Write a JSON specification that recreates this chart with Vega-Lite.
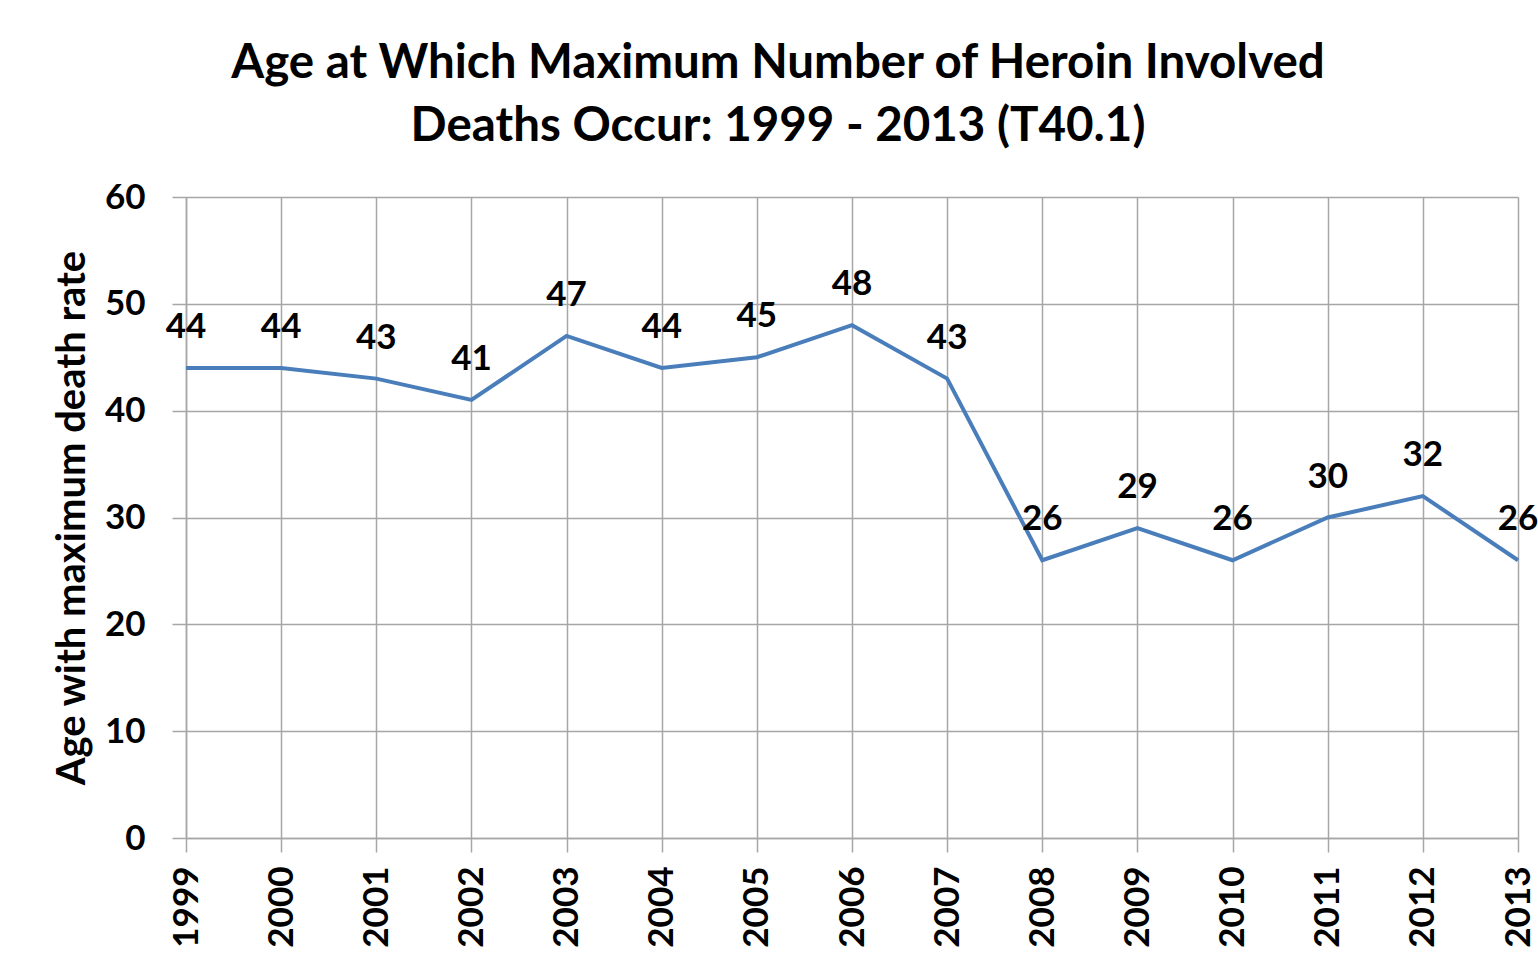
{
  "$schema": "https://vega.github.io/schema/vega-lite/v6.json",
  "width": 1332,
  "height": 641,
  "autosize": {"type": "none"},
  "padding": {"left": 186, "top": 197, "right": 20, "bottom": 128},
  "background": "white",
  "title": {
    "text": ["Age at Which Maximum Number of Heroin Involved", "Deaths Occur: 1999 - 2013 (T40.1)"],
    "font": "Lato",
    "fontSize": 47.5,
    "fontWeight": "bold",
    "color": "black",
    "anchor": "middle",
    "dx": -74,
    "lineHeight": 63,
    "offset": 30
  },
  "data": {
    "values": [
      {"year": 1999, "age": 44},
      {"year": 2000, "age": 44},
      {"year": 2001, "age": 43},
      {"year": 2002, "age": 41},
      {"year": 2003, "age": 47},
      {"year": 2004, "age": 44},
      {"year": 2005, "age": 45},
      {"year": 2006, "age": 48},
      {"year": 2007, "age": 43},
      {"year": 2008, "age": 26},
      {"year": 2009, "age": 29},
      {"year": 2010, "age": 26},
      {"year": 2011, "age": 30},
      {"year": 2012, "age": 32},
      {"year": 2013, "age": 26}
    ]
  },
  "encoding": {
    "x": {
      "field": "year",
      "type": "quantitative",
      "scale": {"domain": [1999, 2013], "nice": false, "zero": false},
      "axis": {
        "title": null,
        "values": [1999, 2000, 2001, 2002, 2003, 2004, 2005, 2006, 2007, 2008, 2009, 2010, 2011, 2012, 2013],
        "format": "d",
        "labelAngle": -90,
        "labelAlign": "right",
        "labelBaseline": "middle",
        "labelFont": "Lato",
        "labelFontWeight": "bold",
        "labelFontSize": 35,
        "labelColor": "black",
        "labelPadding": 14,
        "labelOverlap": false,
        "labelFlush": false,
        "tickSize": 14,
        "tickColor": "#a6a6a6",
        "tickWidth": 1.5,
        "domainColor": "#a6a6a6",
        "domainWidth": 1.5,
        "grid": true,
        "gridColor": "#a6a6a6",
        "gridWidth": 1.5
      }
    },
    "y": {
      "field": "age",
      "type": "quantitative",
      "scale": {"domain": [0, 60], "nice": false},
      "axis": {
        "title": "Age with maximum death rate",
        "titleFont": "Lato",
        "titleFontWeight": "bold",
        "titleFontSize": 40,
        "titleColor": "black",
        "titlePadding": 12,
        "values": [0, 10, 20, 30, 40, 50, 60],
        "labelFont": "Lato",
        "labelFontWeight": "bold",
        "labelFontSize": 35,
        "labelColor": "black",
        "labelPadding": 27,
        "labelFlush": false,
        "tickSize": 14,
        "tickColor": "#a6a6a6",
        "tickWidth": 1.5,
        "domainColor": "#a6a6a6",
        "domainWidth": 1.5,
        "grid": true,
        "gridColor": "#a6a6a6",
        "gridWidth": 1.5
      }
    }
  },
  "layer": [
    {
      "mark": {"type": "line", "color": "#4a7ebb", "strokeWidth": 4, "clip": false}
    },
    {
      "mark": {"type": "text", "font": "Lato", "fontWeight": "bold", "fontSize": 35, "color": "black", "baseline": "alphabetic", "dy": -30, "clip": false},
      "encoding": {"text": {"field": "age", "type": "quantitative"}}
    }
  ],
  "config": {"view": {"stroke": null}}
}
